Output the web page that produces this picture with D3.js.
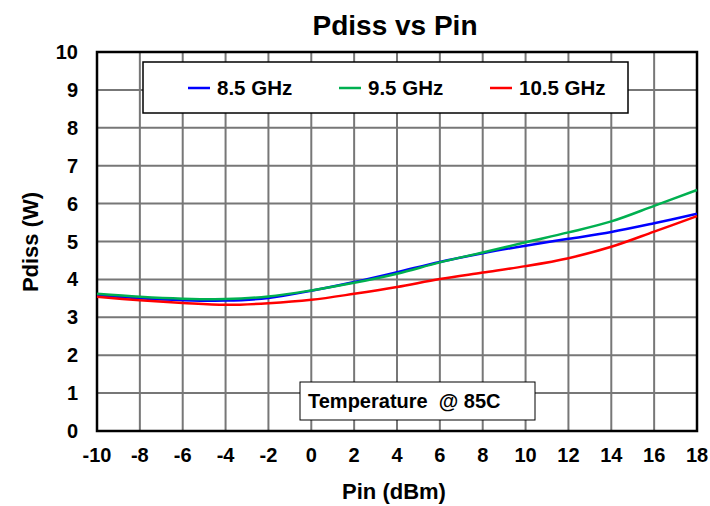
<!DOCTYPE html>
<html>
<head>
<meta charset="utf-8">
<script src="https://cdn.jsdelivr.net/npm/d3@7"></script>
<style>
  body { margin: 0; background: #fff; }
  text { font-family: "Liberation Sans", Arial, sans-serif; font-weight: bold; fill: #000; }
</style>
</head>
<body>
<script>
// Pin sweep (dBm) and Pdiss (W)
var pin = [-10, -8, -6, -4, -2, 0, 2, 4, 6, 8, 10, 12, 14, 16, 18];
var pdiss85 = [3.58, 3.50, 3.45, 3.44, 3.51, 3.70, 3.93, 4.19, 4.46, 4.69, 4.89, 5.07, 5.25, 5.48, 5.73];
var pdiss95 = [3.62, 3.54, 3.49, 3.48, 3.55, 3.71, 3.91, 4.15, 4.45, 4.71, 4.98, 5.24, 5.53, 5.94, 6.36];
var pdiss105 = [3.54, 3.45, 3.38, 3.33, 3.37, 3.46, 3.62, 3.80, 4.01, 4.18, 4.35, 4.56, 4.86, 5.26, 5.67];
var xTicks = d3.range(-10, 19, 2);
var yTicks = d3.range(0, 11, 1);

var series = [
  { name: "8.5 GHz", values: pdiss85, color: "#0000ff" },
  { name: "9.5 GHz", values: pdiss95, color: "#00b050" },
  { name: "10.5 GHz", values: pdiss105, color: "#ff0000" }
];

var width = 710, height = 506;
// plot box (window.top is reserved, so use other names)
var plotL = 97, plotR = 697, plotT = 52, plotB = 431;

var svg = d3.select("body").append("svg")
    .attr("width", width)
    .attr("height", height);

var x = d3.scaleLinear().domain([-10, 18]).range([plotL, plotR]);
var y = d3.scaleLinear().domain([0, 10]).range([plotB, plotT]);

// grid
svg.append("g")
  .selectAll("line")
  .data(xTicks)
  .enter().append("line")
    .attr("x1", function(d) { return x(d); })
    .attr("x2", function(d) { return x(d); })
    .attr("y1", plotT).attr("y2", plotB)
    .attr("stroke", "#777").attr("stroke-width", 2);

svg.append("g")
  .selectAll("line")
  .data(yTicks)
  .enter().append("line")
    .attr("x1", plotL).attr("x2", plotR)
    .attr("y1", function(d) { return y(d); })
    .attr("y2", function(d) { return y(d); })
    .attr("stroke", "#777").attr("stroke-width", 2);

// frame
svg.append("rect")
  .attr("x", plotL).attr("y", plotT)
  .attr("width", plotR - plotL).attr("height", plotB - plotT)
  .attr("fill", "none").attr("stroke", "#000").attr("stroke-width", 2.5);

// tick labels
svg.append("g")
  .selectAll("text")
  .data(xTicks)
  .enter().append("text")
    .attr("x", function(d) { return x(d); })
    .attr("y", plotB + 31)
    .attr("text-anchor", "middle")
    .style("font-size", "20px")
    .text(function(d) { return d; });

svg.append("g")
  .selectAll("text")
  .data(yTicks)
  .enter().append("text")
    .attr("x", plotL - 19)
    .attr("y", function(d) { return y(d) + 7; })
    .attr("text-anchor", "end")
    .style("font-size", "20px")
    .text(function(d) { return d; });

// curves
var line = d3.line()
  .x(function(d, i) { return x(pin[i]); })
  .y(function(d) { return y(d); })
  .curve(d3.curveCatmullRom.alpha(0.5));

svg.selectAll(".series")
  .data(series)
  .enter().append("path")
    .attr("class", "series")
    .attr("d", function(d) { return line(d.values); })
    .attr("fill", "none")
    .attr("stroke", function(d) { return d.color; })
    .attr("stroke-width", 2.5);

// legend
svg.append("rect")
  .attr("x", 143).attr("y", 62).attr("width", 485).attr("height", 51)
  .attr("fill", "#fff").attr("stroke", "#000").attr("stroke-width", 1.5);

var legX = [188, 339, 490];
var leg = svg.selectAll(".leg")
  .data(series)
  .enter().append("g")
    .attr("class", "leg")
    .attr("transform", function(d, i) { return "translate(" + legX[i] + ",88)"; });
leg.append("line")
  .attr("x1", 0).attr("x2", 22)
  .attr("stroke", function(d) { return d.color; })
  .attr("stroke-width", 2.5);
leg.append("text")
  .attr("x", 29).attr("y", 7)
  .style("font-size", "20.5px")
  .text(function(d) { return d.name; });

// temperature note
svg.append("rect")
  .attr("x", 300).attr("y", 382).attr("width", 235).attr("height", 38)
  .attr("fill", "#fff").attr("stroke", "#000").attr("stroke-width", 1);
svg.append("text")
  .attr("x", 308).attr("y", 408)
  .style("font-size", "20px")
  .style("white-space", "pre")
  .text("Temperature  @ 85C");

// titles
svg.append("text")
  .attr("x", 395).attr("y", 35)
  .attr("text-anchor", "middle")
  .style("font-size", "28px")
  .text("Pdiss vs Pin");

svg.append("text")
  .attr("x", 394).attr("y", 499)
  .attr("text-anchor", "middle")
  .style("font-size", "22px")
  .text("Pin (dBm)");

svg.append("text")
  .attr("transform", "translate(38,242) rotate(-90)")
  .attr("text-anchor", "middle")
  .style("font-size", "22px")
  .text("Pdiss (W)");
</script>
</body>
</html>
